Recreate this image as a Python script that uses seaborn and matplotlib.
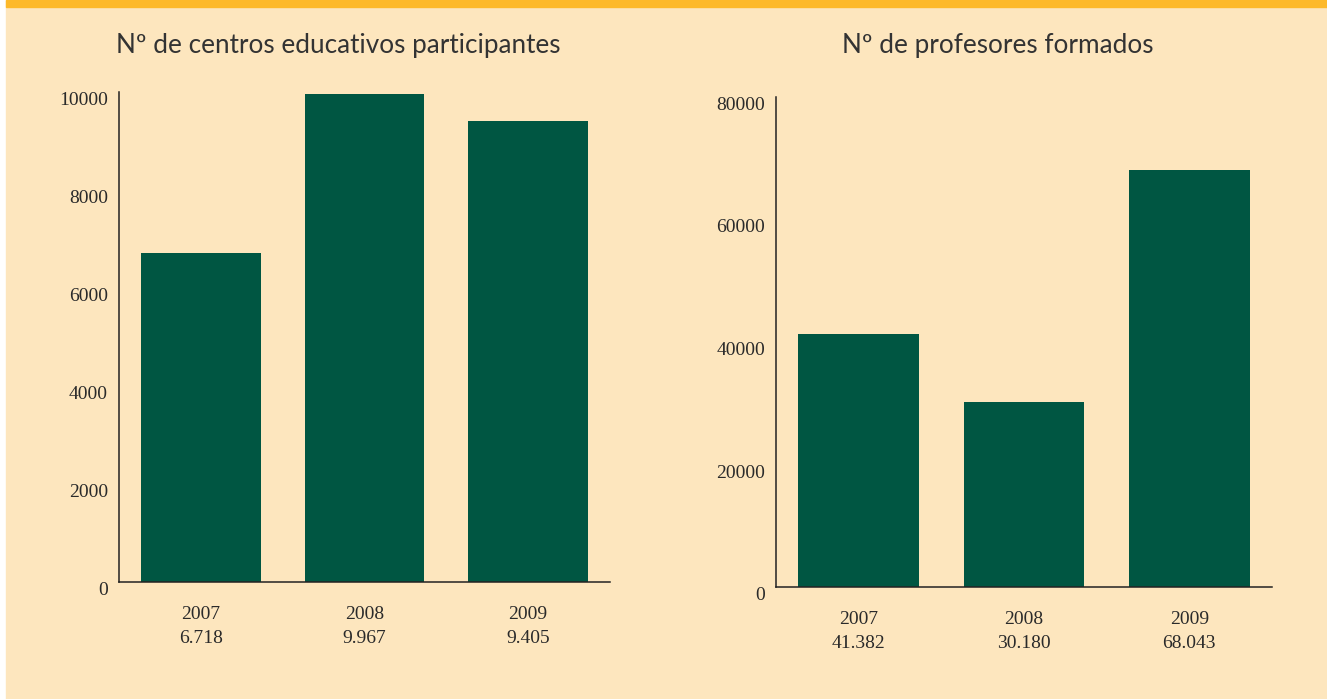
import matplotlib
matplotlib.use("Agg")
import matplotlib.pyplot as plt
import seaborn as sns
import pandas as pd

# data
years = ["2007", "2008", "2009"]
centros = [6718, 9967, 9405]
centros_lbl = ["6.718", "9.967", "9.405"]
profesores = [41382, 30180, 68043]
profesores_lbl = ["41.382", "30.180", "68.043"]

bg = "#FDE6BE"
green = "#005642"
txt = "#2a2a2a"

sns.set_style("white")
W, H = 1327, 699
fig = plt.figure(figsize=(W / 100, H / 100), dpi=100, facecolor="white")

# cream panel (white strip at the left) and orange band on top
fig.patches.append(plt.Rectangle((6 / W, 0), 1, 1, transform=fig.transFigure,
                                 color=bg, zorder=-10))
fig.patches.append(plt.Rectangle((6 / W, 1 - 7 / H), 1, 7 / H, transform=fig.transFigure,
                                 color="#FDB92A", zorder=-9))

panels = [
    ("Nº de centros educativos participantes", centros, centros_lbl,
     (119, 610, 92, 582), 10000, 2000, 338),
    ("Nº de profesores formados", profesores, profesores_lbl,
     (776, 1272, 97, 587), 80000, 20000, 998),
]

for title, vals, lbls, (x0, x1, ytop, ybot), ymax, step, tx in panels:
    ax = fig.add_axes([x0 / W, 1 - ybot / H, (x1 - x0) / W, (ybot - ytop) / H])
    ax.set_facecolor(bg)
    df = pd.DataFrame({"year": years, "v": vals})
    sns.barplot(data=df, x="year", y="v", color=green, width=0.73,
                saturation=1, linewidth=0, ax=ax)
    ax.set_xlim(-0.5, 2.5)
    ax.set_ylim(0, ymax)
    yt = list(range(0, ymax + 1, step))
    ax.set_yticks(yt)
    ax.set_yticklabels([str(v) for v in yt], va="top",
                       family="Liberation Serif", fontsize=14, color=txt)
    ax.set_xticks(range(len(years)))
    ax.set_xticklabels([f"{y}\n{l}" for y, l in zip(years, lbls)],
                       family="Liberation Serif", fontsize=14, color=txt,
                       linespacing=1.6)
    ax.tick_params(axis="y", length=0, pad=8)
    ax.tick_params(axis="x", length=0, pad=17)
    ax.set_xlabel("")
    ax.set_ylabel("")
    sns.despine(ax=ax)
    for s in ("left", "bottom"):
        ax.spines[s].set_color("#222222")
        ax.spines[s].set_linewidth(1.1)
    fig.text(tx / W, (H - 45) / H, title, ha="center", va="center",
             fontsize=18.8, family="Lato", color="#333333")

fig.savefig("out.png", dpi=100, facecolor="white")
